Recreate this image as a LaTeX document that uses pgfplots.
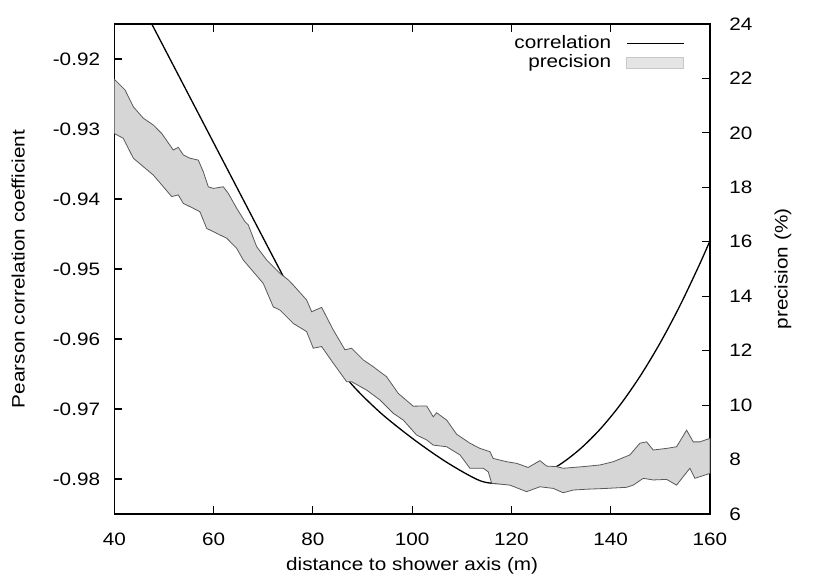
\documentclass[border=0pt]{standalone}
\usepackage{pgfplots}
\pgfplotsset{compat=1.18}
\usepackage{fontspec}
\setmainfont[FakeStretch=1.15]{Liberation Sans}
\begin{document}
\begin{tikzpicture}
\useasboundingbox (-57.15pt,-33.5pt) rectangle (357.85pt,257pt);
\pgfplotsset{
  every axis/.append style={
    scale only axis, width=297.85pt, height=245pt,
    at={(0,0)}, anchor=south west,
    xmin=40, xmax=160,
    font=\fontsize{9}{11}\selectfont,
    tick align=inside, major tick length=4pt,
    line width=0.6pt,
    every tick/.style={black, line width=0.6pt},
    /pgf/number format/assume math mode=true,
  },
}
\begin{axis}[
  ymin=-0.985, ymax=-0.915,
  xtick={40,60,...,160},
  ytick={-0.98,-0.97,-0.96,-0.95,-0.94,-0.93,-0.92},
  yticklabels={-0.98,-0.97,-0.96,-0.95,-0.94,-0.93,-0.92},
  xticklabel pos=lower,
  ytick pos=left,
  xtick pos=both,
  xticklabel style={anchor=center, yshift=-12.5pt},
  yticklabel style={xshift=-3.5pt},
  xlabel={distance to shower axis (m)},
  xlabel style={at={(axis description cs:0.5,0)}, anchor=center, yshift=-26pt},
  ylabel={Pearson correlation coefficient},
  ylabel style={at={(axis description cs:-0.1612,0.5)}, anchor=center},
]
\addplot[black, line width=0.65pt, smooth] coordinates {
(47,-0.91425) (52,-0.92106) (58,-0.92923) (64,-0.93741) (70,-0.94558) (74,-0.95100)
(77.40,-0.95547) (82.09,-0.96096) (87.47,-0.96619) (93.51,-0.97047)
(100.22,-0.97429) (106.95,-0.97761) (113.65,-0.98024) (118,-0.98065) (122,-0.98034)
(126,-0.97939) (130,-0.97782) (134,-0.97561) (138,-0.97278) (142,-0.96932)
(146,-0.96523) (150,-0.96051) (154,-0.95516) (158,-0.94918) (160,-0.94595)
};
\end{axis}
\begin{axis}[
  ymin=6, ymax=24,
  hide x axis,
  axis y line*=right,
  tick align=inside,
  ytick={6,8,...,24},
  yticklabel style={xshift=6pt},
  ylabel={precision (\%)},
  ylabel style={at={(axis description cs:1.1225,0.5)}, anchor=center},
  legend style={draw=none, fill=none, inner sep=0pt, at={(axis description cs:1,1)},
    anchor=north east, xshift=-12.5pt, yshift=-4.75pt,
    nodes={inner sep=0.5pt, text height=6.5pt, text depth=2pt},
    row sep=0pt, column sep=7pt},
  legend cell align=right,
  legend plot pos=right,
]
\addlegendimage{black, line width=0.65pt, legend image code/.code={\draw[black, line width=0.65pt] (0pt,0pt) -- (28.5pt,0pt);}}
\addlegendentry{correlation}
\addplot[draw=black!65, line width=0.4pt, fill=black!16,
  legend image code/.code={\draw[draw=black!22, line width=0.4pt, fill=black!10] (0pt,-2.75pt) rectangle (28.5pt,2.75pt);}]
coordinates {
(40,21.97) (42.16,21.58) (43.83,20.96) (45.84,20.54) (47.86,20.29) (49.55,19.98)
(51.88,19.37) (52.89,19.47) (53.90,19.19) (55.25,19.07) (56.92,19.00) (57.93,18.57)
(58.93,18.02) (59.94,17.96) (61.95,18.02) (62.96,17.78) (64.65,17.23) (66.32,16.74)
(66.99,16.62) (68.68,15.82) (70.69,15.33) (73.37,14.84) (75.05,14.60) (76.05,14.41)
(78.75,13.86) (79.76,13.43) (81.77,13.59) (84.11,12.76) (86.47,12.03) (87.81,12.09)
(90.15,11.66) (92.17,11.41) (94.86,11.04) (97.20,10.43) (100.22,9.96) (102.92,9.97)
(104.25,9.57) (104.93,9.72) (106.95,9.45) (108.96,8.93) (111.64,8.60) (113.65,8.41)
(115.67,8.29) (116.33,8.04) (119.03,7.92) (121.05,7.86) (123.38,7.71) (125.74,7.96)
(127.09,7.76) (129.10,7.74) (130.43,7.68) (134.46,7.74) (137.82,7.80) (140.50,7.92)
(143.86,8.17) (145.88,8.60) (147.23,8.65) (148.56,8.35) (151.26,8.41) (153.27,8.47)
(155.29,9.08) (156.62,8.65) (157.97,8.65) (160,8.78)
(160,7.49) (159.64,7.47) (156.96,7.31) (155.95,7.68) (154.60,7.37) (153.27,7.06)
(151.26,7.27) (148.56,7.25) (146.55,7.31) (144.53,7.06) (143.20,6.98) (139.17,6.94)
(135.15,6.91) (132.45,6.88) (130.43,6.78) (128.42,6.94) (125.74,7.00) (123.06,6.82)
(119.70,7.06) (116.01,7.13) (115.33,7.55) (114.32,7.68) (111.64,7.68) (109.63,8.17)
(106.95,8.47) (104.25,8.53) (102.92,8.72) (100.90,8.90) (98.21,9.45) (96.19,9.70)
(93.51,10.19) (90.84,10.55) (87.81,10.86) (86.81,10.86) (84.11,11.54) (81.77,12.15)
(80.08,12.09) (78.75,12.70) (76.05,13.00) (73.37,13.49) (72.02,13.61) (70.01,14.47)
(67.99,14.90) (65.98,15.33) (64.65,15.76) (62.64,16.13) (60.62,16.31) (58.61,16.49)
(57.26,17.10) (55.91,17.23) (53.90,17.41) (52.89,17.72) (51.56,17.66) (49.55,18.09)
(47.86,18.45) (45.84,18.76) (43.83,19.07) (41.81,19.80) (40,19.98) (40,21.97)
};
\addlegendentry{precision}
\end{axis}
\end{tikzpicture}
\end{document}
